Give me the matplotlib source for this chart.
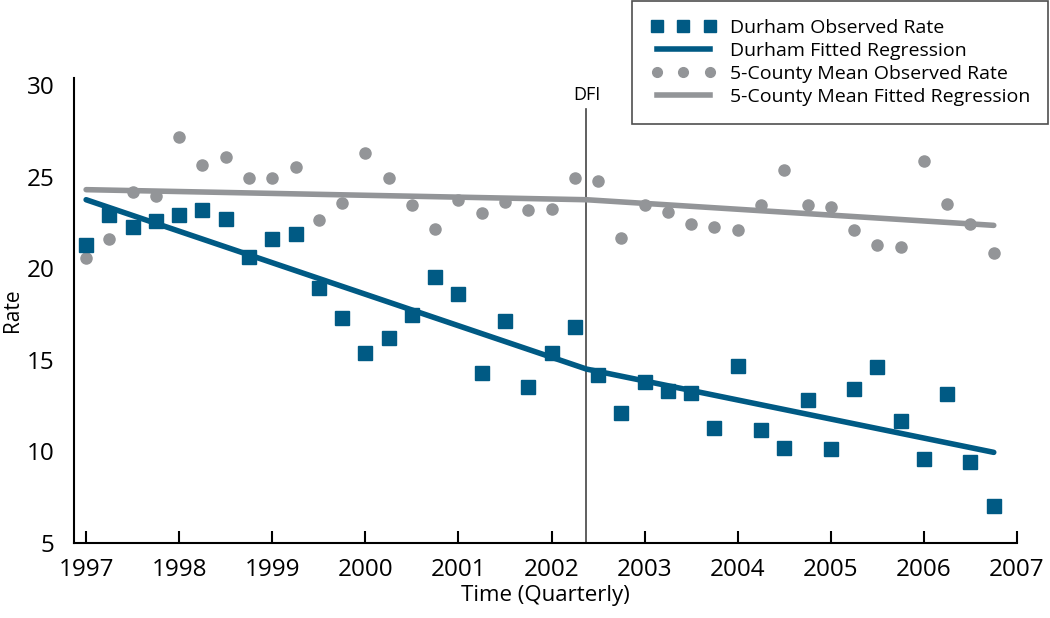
import matplotlib
matplotlib.use("Agg")
import matplotlib.pyplot as plt
from matplotlib.lines import Line2D

# quarterly observations, 1997 Q1 .. 2006 Q4
quarters = [1997 + 0.25 * i for i in range(40)]

durham_obs = [21.3, 22.9, 22.25, 22.6, 22.9, 23.2, 22.7, 20.6, 21.6, 21.9,
              18.95, 17.3, 15.4, 16.2, 17.45, 19.55, 18.6, 14.3, 17.14, 13.5,
              15.38, 16.8, 14.18, 12.1, 13.79, 13.28, 13.19, 11.29, 14.69, 11.16,
              10.18, 12.81, 10.11, 13.39, 14.62, 11.68, 9.58, 13.15, 9.40, 7.03]

county_obs = [20.54, 21.6, 24.15, 23.97, 27.19, 25.65, 26.1, 24.93, 24.96, 25.53,
              22.66, 23.57, 26.29, 24.93, 23.44, 22.17, 23.75, 23.03, 23.62, 23.17,
              23.26, 24.93, 24.8, 21.67, 23.44, 23.06, 22.45, 22.27, 22.12, 23.48,
              25.38, 23.48, 23.35, 22.08, 21.3, 21.16, 25.89, 23.52, 22.45, 20.82]

# fitted segmented regression (start, DFI break, end)
fit_x = [1997.0, 2002.375, 2006.75]
durham_fit = [23.75, 14.5, 9.95]
county_fit = [24.3, 23.75, 22.35]

dfi_year = 2002.375
year_ticks = list(range(1997, 2008))
rate_ticks = [5, 10, 15, 20, 25, 30]

BLUE = "#005a84"
GREY = "#939598"

plt.rcParams['font.family'] = ['Open Sans', 'DejaVu Sans']


def main():
    fig = plt.figure(figsize=(10.5, 6.18), dpi=100)
    ax = fig.add_axes([0.0705, 0.1214, 0.8981, 0.7524])

    ax.plot(quarters, county_obs, 'o', color=GREY, markersize=8, zorder=2)
    ax.plot(fit_x, county_fit, '-', color=GREY, linewidth=4, zorder=3,
            solid_capstyle='round')
    ax.plot(quarters, durham_obs, 's', color=BLUE, markersize=9.5, zorder=4)
    ax.plot(fit_x, durham_fit, '-', color=BLUE, linewidth=4, zorder=5,
            solid_capstyle='round', solid_joinstyle='round')

    # DFI marker
    ax.plot([dfi_year, dfi_year], [5, 28.7], color='#444444', linewidth=1.2,
            zorder=1)
    ax.text(dfi_year, 29.0, "DFI", ha='center', va='bottom', fontsize=13)

    ax.set_xlim(1996.87, 2007.0)
    ax.set_ylim(5, 30.4)
    ax.set_xticks(year_ticks)
    ax.set_yticks(rate_ticks)
    ax.tick_params(axis='x', direction='in', length=9, width=1.5,
                   labelsize=17.5, pad=11)
    ax.tick_params(axis='y', length=0, labelsize=17.5, pad=14)
    for side in ['top', 'right']:
        ax.spines[side].set_visible(False)
    for side in ['left', 'bottom']:
        ax.spines[side].set_linewidth(1.5)

    ax.set_xlabel("Time (Quarterly)", fontsize=16, labelpad=2)
    ax.set_ylabel("Rate", fontsize=15, labelpad=3)

    handles = [
        Line2D([], [], linestyle='none', marker='s', color=BLUE, markersize=9),
        Line2D([], [], color=BLUE, linewidth=4),
        Line2D([], [], linestyle='none', marker='o', color=GREY, markersize=7),
        Line2D([], [], color=GREY, linewidth=4),
    ]
    labels = ["Durham Observed Rate", "Durham Fitted Regression",
              "5-County Mean Observed Rate", "5-County Mean Fitted Regression"]
    leg = fig.legend(handles, labels, loc='upper right',
                     bbox_to_anchor=(0.9985, 0.999), numpoints=3,
                     fontsize=14, frameon=True, fancybox=False,
                     edgecolor='#222222', handlelength=3.35, handletextpad=0.7,
                     labelspacing=0.25, borderpad=0.95, borderaxespad=0)
    leg.get_frame().set_linewidth(1.2)

    fig.savefig("out.png", dpi=100)


if __name__ == "__main__":
    main()
